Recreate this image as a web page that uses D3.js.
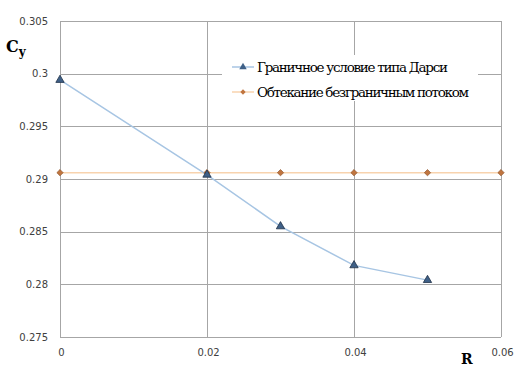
<!DOCTYPE html>
<html>
<head>
<meta charset="utf-8">
<script src="https://cdn.jsdelivr.net/npm/d3@7"></script>
<style>
  body { margin: 0; background: #fff; }
  svg { display: block; }
  .serif { font-family: 'DejaVu Serif', 'Liberation Serif', serif; }
</style>
</head>
<body>
<svg id="chart" width="518" height="372"></svg>
<script>
// data
const darcyR = [0, 0.02, 0.03, 0.04, 0.05]
const darcyCy = [0.2994, 0.2904, 0.2855, 0.2818, 0.2804]
const freeR = [0, 0.02, 0.03, 0.04, 0.05, 0.06]
const freeCy = [0.2906, 0.2906, 0.2906, 0.2906, 0.2906, 0.2906]
const xTicks = [0, 0.02, 0.04, 0.06]
const yTicks = [0.275, 0.28, 0.285, 0.29, 0.295, 0.3, 0.305]
const legendLabels = ['Граничное условие типа Дарси', 'Обтекание безграничным потоком']

const svg = d3.select('#chart')
const m = { left: 60, right: 17, top: 21, bottom: 35 }
const W = 518, H = 372

const x = d3.scaleLinear().domain([0, 0.06]).range([m.left, W - m.right])
const y = d3.scaleLinear().domain([0.275, 0.305]).range([H - m.bottom, m.top])

const grid = svg.append('g').attr('stroke', '#a6a6a6').attr('stroke-width', 1)
grid.selectAll('.hy').data(yTicks).join('line')
    .attr('x1', x(0)).attr('x2', x(0.06))
    .attr('y1', d => Math.round(y(d)) + 0.5).attr('y2', d => Math.round(y(d)) + 0.5)
grid.selectAll('.vx').data(xTicks).join('line')
    .attr('y1', y(0.275)).attr('y2', y(0.305))
    .attr('x1', d => Math.round(x(d)) + 0.5).attr('x2', d => Math.round(x(d)) + 0.5)

// tick labels
const yAxis = svg.append('g')
    .attr('transform', `translate(${m.left - 12},0)`)
    .call(d3.axisLeft(y).tickValues(yTicks).tickSize(0).tickPadding(0).tickFormat(d => d3.format('')(+d.toFixed(3))))
yAxis.select('.domain').remove()
yAxis.selectAll('text').attr('font-family', 'DejaVu Sans').attr('font-size', 10).attr('fill', '#404040')

const xAxis = svg.append('g')
    .attr('transform', `translate(0,${H - m.bottom + 12})`)
    .call(d3.axisBottom(x).tickValues(xTicks).tickSize(0).tickPadding(0).tickFormat(d => d3.format('')(+d.toFixed(2))))
xAxis.select('.domain').remove()
xAxis.selectAll('text').attr('font-family', 'DejaVu Sans').attr('font-size', 10).attr('fill', '#404040')
    .attr('dx', 1)

// series
const line = d3.line().x(d => x(d[0])).y(d => y(d[1]))
const freePts = freeR.map((r, i) => [r, freeCy[i]])
const darcyPts = darcyR.map((r, i) => [r, darcyCy[i]])

svg.append('path').datum(freePts).attr('d', line)
    .attr('fill', 'none').attr('stroke', '#f8d3ae').attr('stroke-width', 1.5)
svg.append('path').datum(darcyPts).attr('d', line)
    .attr('fill', 'none').attr('stroke', '#a7c5e3').attr('stroke-width', 1.5)

const diamond = d3.symbol().type(d3.symbolSquare).size(20)
const tri = d3.symbol().type(d3.symbolTriangle).size(30)

svg.selectAll('.fp').data(freePts).join('path')
    .attr('d', diamond)
    .attr('transform', d => `translate(${x(d[0])},${y(d[1])}) rotate(45)`)
    .attr('fill', '#c0753f').attr('stroke', '#8a4f26').attr('stroke-width', 0.6)
svg.selectAll('.dp').data(darcyPts).join('path')
    .attr('d', tri)
    .attr('transform', d => `translate(${x(d[0])},${y(d[1])})`)
    .attr('fill', '#3f6087').attr('stroke', '#1f3148').attr('stroke-width', 0.8)

// legend
const lg = svg.append('g').attr('transform', 'translate(222,55)')
lg.append('rect').attr('width', 256).attr('height', 46).attr('fill', '#fff')
const legendColors = [['#a7c5e3', '#3f6087'], ['#f8d3ae', '#c0753f']]
const legendSyms = [d3.symbol().type(d3.symbolTriangle).size(24), d3.symbol().type(d3.symbolSquare).size(14)]
legendLabels.forEach((t, i) => {
  const row = lg.append('g').attr('transform', `translate(0,${12 + i * 25})`)
  row.append('line').attr('x1', 10).attr('x2', 32).attr('stroke', legendColors[i][0]).attr('stroke-width', 1.5)
  row.append('path').attr('d', legendSyms[i]).attr('transform', `translate(21,0) rotate(${i * 45})`)
      .attr('fill', legendColors[i][1])
  row.append('text').attr('class', 'serif').attr('x', 35).attr('y', 5).text(t)
      .attr('font-size', 13.5).attr('textLength', i ? 212 : 191).attr('fill', '#000')
})

// axis titles
const cy = svg.append('text').attr('class', 'serif').attr('x', 6).attr('y', 52)
    .attr('font-weight', 'bold').attr('font-size', 16)
cy.append('tspan').text('C')
cy.append('tspan').text('y').attr('font-size', 12).attr('dy', 4)

svg.append('text').attr('class', 'serif').attr('x', 461).attr('y', 364).text('R')
    .attr('font-weight', 'bold').attr('font-size', 14)
</script>
</body>
</html>
